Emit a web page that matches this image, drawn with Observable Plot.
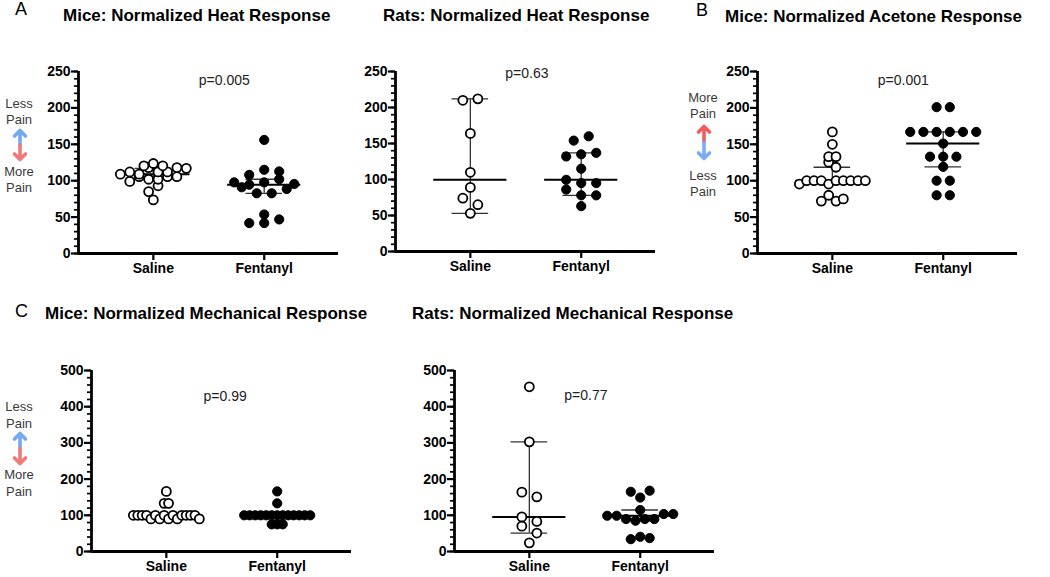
<!DOCTYPE html>
<html><head><meta charset="utf-8">
<script src="https://cdn.jsdelivr.net/npm/d3@7"></script>
<script src="https://cdn.jsdelivr.net/npm/@observablehq/plot@0.6"></script>
<style>
body{margin:0;background:#fff;font-family:"Liberation Sans",Arial,Helvetica,sans-serif;}
#root{position:relative;width:1050px;height:577px;overflow:hidden;background:#fff}
.abs{position:absolute;white-space:nowrap;line-height:1}
.title{font-weight:bold;font-size:17px;color:#000}
.letter{font-size:18px;color:#000}
.pain{font-size:13px;color:#3a3a3a;text-align:center;width:40px}
</style></head><body><div id="root"></div>
<script>
// ---------- data ----------
const groups = ["Saline", "Fentanyl"];
const titles = ["Mice: Normalized Heat Response", "Rats: Normalized Heat Response",
  "Mice: Normalized Acetone Response", "Mice: Normalized Mechanical Response",
  "Rats: Normalized Mechanical Response"];
const letters = ["A", "B", "C"];
const pvalues = ["p=0.005", "p=0.63", "p=0.001", "p=0.99", "p=0.77"];
// values listed row by row (top to bottom), left to right within a row
const miceHeatSaline = [120.5,123.6,120.5, 109,112,109,118,112,112,118,117, 99,105.5,102,102,105.5,105.5, 85,93, 73.6];
const miceHeatFentanyl = [156, 108,115,112.7, 97.7,94.5,97.7,102,95.5, 91,82.7,82.7,88.6, 53.6, 41.8,41.8,46.8];
const ratsHeatSaline = [210,212, 164, 110, 89, 74,65, 53];
const ratsHeatFentanyl = [154,160, 132,135,137, 115, 99.5,95,95, 86,78,78, 63];
const miceAcetoneSaline = [167, 150, 133,133, 125.5,118.5, 95.4,100,100,100,95.4,100,100,100,100,100, 72,80,72,75];
const miceAcetoneFentanyl = [201,201, 167,167,167,167,167,167, 151, 133,133,133, 119, 100,100, 80,80];
const miceMechSaline = [166, 133,133, 100,100,100,100,90,100,90,100,90,100,90,100,100,100,100,90];
const miceMechFentanyl = [166, 133, 100,100,100,100,100,100,100,100,100,100,100,100,100, 75,75,75];
const ratsMechSaline = [455, 303, 164,151, 95.5,83, 70,51, 24];
const ratsMechFentanyl = [165,149,168, 114.6, 98.8,98.8,89.6,85,89.6,89.6,103.5,103.5, 34,40.6,37];

// ---------- helpers ----------
function binom(n, k) { let r = 1; for (let i = 1; i <= k; i++) r = r * (n - k + i) / i; return r; }
function ciRanks(n) { // 95% CI of the median (binomial ranks)
  let cum = 0, lo = 1; const tot = Math.pow(2, n);
  for (let j = 0; j < n; j++) { cum += binom(n, j) / tot; if (cum <= 0.025) lo = j + 1; else break; }
  return [lo, n + 1 - lo];
}
const FONT = '"Liberation Sans", Arial, Helvetica, sans-serif';
const root = document.getElementById("root");

function panel(cfg) {
  const {series, ymax, major, minor, innerH, axLeft, axTop, pval, px, py} = cfg;
  const mL = 42, mR = 8, mT = 12, mB = 28, innerW = 260;
  const xDom = [-0.675, 1.67];
  const pxX = innerW / (xDom[1] - xDom[0]);
  const pxY = innerH / ymax;
  const pts = [], bars = [];
  series.forEach((vals, g) => {
    const idx = vals.map((v, i) => i).sort((a, b) => vals[a] - vals[b] || a - b);
    const rows = []; let cur = null;
    for (const i of idx) {
      if (!cur || (vals[i] - vals[cur[0]]) * pxY > 7) { cur = [i]; rows.push(cur); } else cur.push(i);
    }
    const maxN = d3.max(rows, r => r.length);
    const sp = maxN > 1 ? Math.min(15, 66 / (maxN - 1)) : 0;
    for (const r of rows) {
      r.sort((a, b) => a - b);
      r.forEach((i, k) => pts.push({g, v: vals[i], x: g + (k - (r.length - 1) / 2) * sp / pxX}));
    }
    const s = vals.slice().sort(d3.ascending);
    const [lo, hi] = ciRanks(s.length);
    bars.push({g, med: d3.median(s), lo: s[lo - 1], hi: s[hi - 1]});
  });
  const chart = Plot.plot({
    width: mL + innerW + mR, height: mT + innerH + mB,
    marginLeft: mL, marginRight: mR, marginTop: mT, marginBottom: mB,
    style: {fontFamily: FONT, background: "transparent", overflow: "visible", color: "#000"},
    x: {domain: xDom, axis: null},
    y: {domain: [0, ymax], axis: null},
    marks: [
      Plot.axisY({ticks: d3.range(0, ymax + 1, minor), tickSize: 4, tickFormat: () => "", strokeWidth: 1.7, label: null}),
      Plot.axisY({ticks: d3.range(0, ymax + 1, major), tickSize: 7, tickPadding: 1, fontSize: 14, fontWeight: "bold", strokeWidth: 2.2, label: null}),
      Plot.axisX({ticks: [0, 1], tickFormat: i => groups[i], tickSize: 7, tickPadding: 3, fontSize: 14, fontWeight: "bold", strokeWidth: 2.2, label: null}),
      Plot.ruleX([xDom[0]], {y1: 0, y2: ymax, strokeWidth: 2.8}),
      Plot.ruleY([0], {x1: xDom[0], x2: xDom[1], strokeWidth: 2.8}),
      Plot.ruleX(bars, {x: "g", y1: "lo", y2: "hi", stroke: "#333", strokeWidth: 1.3}),
      Plot.ruleY(bars, {y: "lo", x1: d => d.g - 0.165, x2: d => d.g + 0.165, stroke: "#333", strokeWidth: 1.3}),
      Plot.ruleY(bars, {y: "hi", x1: d => d.g - 0.165, x2: d => d.g + 0.165, stroke: "#333", strokeWidth: 1.3}),
      Plot.ruleY(bars, {y: "med", x1: d => d.g - 0.33, x2: d => d.g + 0.33, stroke: "#000", strokeWidth: 2}),
      Plot.dot(pts.filter(d => d.g === 0), {x: "x", y: "v", r: 4.5, fill: "#fff", stroke: "#000", strokeWidth: 1.8}),
      Plot.dot(pts.filter(d => d.g === 1), {x: "x", y: "v", r: 4.6, fill: "#000", stroke: "#000", strokeWidth: 1}),
      Plot.text([pval], {x: px, y: py, text: d => d, fontSize: 14, fill: "#222"})
    ]
  });
  const wrap = document.createElement("div");
  wrap.className = "abs";
  wrap.style.left = (axLeft - mL) + "px";
  wrap.style.top = (axTop - mT) + "px";
  wrap.appendChild(chart);
  root.appendChild(wrap);
}

function label(text, cls, left, top) {
  const d = document.createElement("div");
  d.className = "abs " + cls; d.textContent = text;
  d.style.left = left + "px"; d.style.top = top + "px";
  root.appendChild(d);
}

function painArrow(cx, yTop, yBot, topColor, botColor) {
  const ns = "http://www.w3.org/2000/svg";
  const svg = document.createElementNS(ns, "svg");
  svg.setAttribute("width", 20); svg.setAttribute("height", yBot - yTop + 4);
  svg.style.position = "absolute"; svg.style.left = (cx - 10) + "px"; svg.style.top = (yTop - 2) + "px";
  const h = yBot - yTop, mid = 2 + h / 2;
  const mk = (d, c) => { const p = document.createElementNS(ns, "path"); p.setAttribute("d", d);
    p.setAttribute("fill", "none"); p.setAttribute("stroke", c); p.setAttribute("stroke-width", 3.6);
    p.setAttribute("stroke-linecap", "round"); p.setAttribute("stroke-linejoin", "round"); svg.appendChild(p); };
  mk(`M10,${mid} L10,3.5 M4.5,9 L10,3.5 L15.5,9`, topColor);
  mk(`M10,${mid} L10,${h + 0.5} M4.5,${h - 5} L10,${h + 0.5} L15.5,${h - 5}`, botColor);
  root.appendChild(svg);
}

// ---------- panels ----------
panel({series: [miceHeatSaline, miceHeatFentanyl], ymax: 250, major: 50, minor: 10, innerH: 182, axLeft: 78, axTop: 71, pval: pvalues[0], px: 0.64, py: 237.5});
panel({series: [ratsHeatSaline, ratsHeatFentanyl], ymax: 250, major: 50, minor: 10, innerH: 180, axLeft: 395, axTop: 71, pval: pvalues[1], px: 0.51, py: 247});
panel({series: [miceAcetoneSaline, miceAcetoneFentanyl], ymax: 250, major: 50, minor: 10, innerH: 182, axLeft: 757, axTop: 71, pval: pvalues[2], px: 0.64, py: 237.5});
panel({series: [miceMechSaline, miceMechFentanyl], ymax: 500, major: 100, minor: 20, innerH: 181, axLeft: 91, axTop: 370, pval: pvalues[3], px: 0.53, py: 428});
panel({series: [ratsMechSaline, ratsMechFentanyl], ymax: 500, major: 100, minor: 20, innerH: 181, axLeft: 454, axTop: 370, pval: pvalues[4], px: 0.51, py: 431});

// ---------- titles and letters ----------
label(letters[0], "letter", 15, 0);
label(letters[1], "letter", 696, 1);
label(letters[2], "letter", 15, 302);
label(titles[0], "title", 63, 6.7);
label(titles[1], "title", 383, 6.7);
label(titles[2], "title", 725, 7.7);
label(titles[3], "title", 45, 304.7);
label(titles[4], "title", 412, 304.7);

// ---------- pain direction annotations ----------
const blue = "#74a9f2", red = "#f07878", red2 = "#f25c5c", blue2 = "#78adf3";
label("Less", "pain", -1, 96.6); label("Pain", "pain", -1, 112.6);
painArrow(20, 129, 161, blue, red);
label("More", "pain", -1, 164.6); label("Pain", "pain", -1, 180.6);

label("More", "pain", 683, 90.6); label("Pain", "pain", 683, 106.6);
painArrow(704, 125, 160, red2, blue2);
label("Less", "pain", 683, 168.6); label("Pain", "pain", 683, 184.6);

label("Less", "pain", -1, 399.6); label("Pain", "pain", -1, 416.6);
painArrow(20, 432, 465, blue, red);
label("More", "pain", -1, 467.6); label("Pain", "pain", -1, 484.6);
</script></body></html>
